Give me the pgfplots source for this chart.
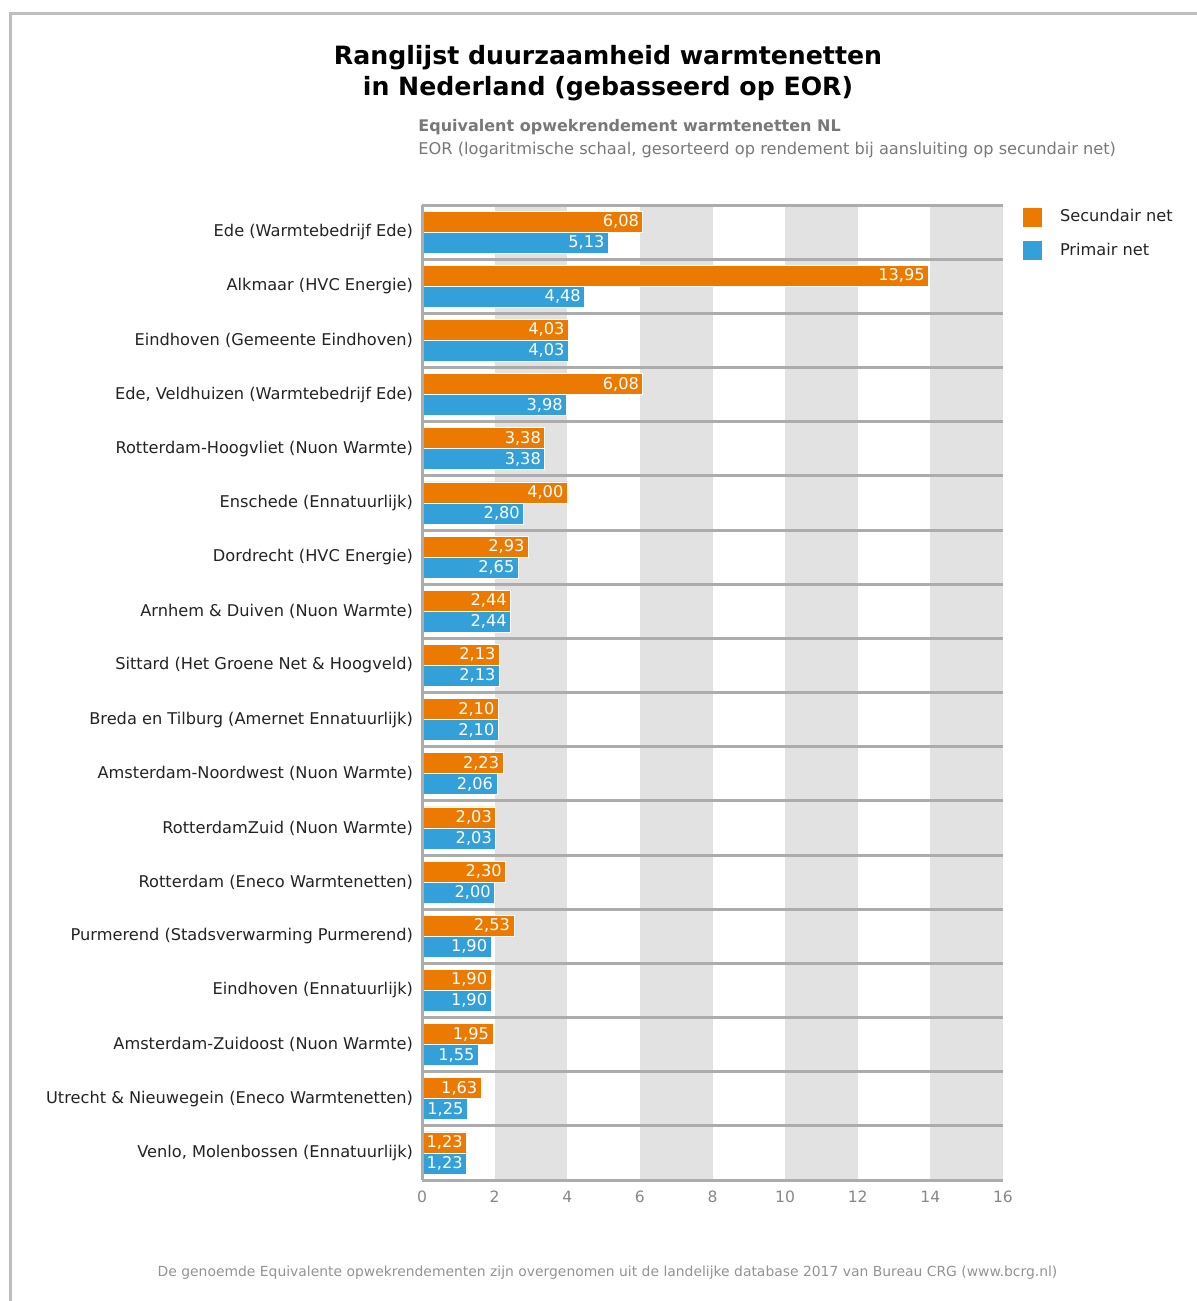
\documentclass[border=0pt]{standalone}
\usepackage{fontspec}
\setmainfont{DejaVu Sans}
\usepackage{pgfplots}
\usepackage{pgfplotstable}
\pgfplotsset{compat=1.18}

\definecolor{secnet}{RGB}{236,122,0}
\definecolor{primnet}{RGB}{52,160,218}
\definecolor{band}{RGB}{226,226,226}
\definecolor{sep}{RGB}{172,172,172}
\definecolor{frame}{RGB}{190,190,190}
\definecolor{labeltext}{RGB}{35,35,35}
\definecolor{subtext}{RGB}{120,120,120}
\definecolor{ticktext}{RGB}{135,135,135}

% row 0 = top of the chart
\pgfplotstableread{
idx sec prim
0 6.08 5.13
1 13.95 4.48
2 4.03 4.03
3 6.08 3.98
4 3.38 3.38
5 4.00 2.80
6 2.93 2.65
7 2.44 2.44
8 2.13 2.13
9 2.10 2.10
10 2.23 2.06
11 2.03 2.03
12 2.30 2.00
13 2.53 1.90
14 1.90 1.90
15 1.95 1.55
16 1.63 1.25
17 1.23 1.23
}\eordata

\begin{document}
\begin{tikzpicture}
\useasboundingbox (0,0) rectangle (598.5pt,650.5pt);
\draw[frame, line width=1.5pt] (5pt,0) -- (5pt,643.5pt) -- (598.5pt,643.5pt);

\node[font=\bfseries\fontsize{12.6}{15.5}\selectfont, align=center, text=black]
  at (304pt,614pt) {Ranglijst duurzaamheid warmtenetten\\in Nederland (gebasseerd op EOR)};
\node[font=\bfseries\fontsize{8}{10}\selectfont, text=subtext, anchor=west, inner sep=0]
  at (209pt,587pt) {Equivalent opwekrendement warmtenetten NL};
\node[font=\fontsize{8.1}{9}\selectfont, text=subtext, anchor=west, inner sep=0]
  at (209pt,575.5pt) {EOR (logaritmische schaal, gesorteerd op rendement bij aansluiting op secundair net)};
\node[font=\fontsize{6.95}{8}\selectfont, text=subtext!80, inner sep=0]
  at (303.75pt,14pt) {De genoemde Equivalente opwekrendementen zijn overgenomen uit de landelijke database 2017 van Bureau CRG (www.bcrg.nl)};

\begin{axis}[
    at={(211pt,60.5pt)}, anchor=south west,
    scale only axis,
    width=290.5pt, height=487.5pt,
    xbar, bar width=10.5pt,
    xmin=0, xmax=16,
    ymin=-0.5, ymax=17.5,
    y dir=reverse,
    xtick={0,2,...,16},
    ytick={0,...,17},
    yticklabels={
        Ede (Warmtebedrijf Ede),
        Alkmaar (HVC Energie),
        Eindhoven (Gemeente Eindhoven),
        {Ede, Veldhuizen (Warmtebedrijf Ede)},
        Rotterdam-Hoogvliet (Nuon Warmte),
        Enschede (Ennatuurlijk),
        Dordrecht (HVC Energie),
        Arnhem \& Duiven (Nuon Warmte),
        Sittard (Het Groene Net \& Hoogveld),
        Breda en Tilburg (Amernet Ennatuurlijk),
        Amsterdam-Noordwest (Nuon Warmte),
        RotterdamZuid (Nuon Warmte),
        Rotterdam (Eneco Warmtenetten),
        Purmerend (Stadsverwarming Purmerend),
        Eindhoven (Ennatuurlijk),
        Amsterdam-Zuidoost (Nuon Warmte),
        Utrecht \& Nieuwegein (Eneco Warmtenetten),
        {Venlo, Molenbossen (Ennatuurlijk)}
    },
    major tick length=0pt,
    axis line style={draw=none},
    axis on top,
    yticklabel style={font=\fontsize{8.1}{9}\selectfont, text=labeltext, xshift=-1pt},
    xticklabel style={font=\fontsize{7.8}{9}\selectfont, text=ticktext, yshift=-2pt},
    /pgf/number format/assume math mode=true,
    extra y ticks={-0.5,0.5,...,17.5},
    extra y tick labels={},
    extra y tick style={grid=major, major grid style={draw=sep, line width=1.5pt}},
    extra x ticks={0},
    extra x tick labels={},
    extra x tick style={grid=major, major grid style={draw=sep, line width=1.5pt}},
    nodes near coords={\pgfmathprintnumber[fixed,fixed zerofill,precision=2,use comma]{\pgfplotspointmeta}},
    every node near coord/.append style={anchor=east, text=white, font=\fontsize{8.1}{9}\selectfont, inner sep=1.8pt},
    legend style={at={(1,1)}, anchor=north west, xshift=9.5pt, draw=none, fill=none,
        font=\fontsize{8.1}{9}\selectfont, text=labeltext, row sep=5pt, inner sep=0pt,
        /tikz/every odd column/.append style={column sep=6.5pt}},
    legend cell align=left,
    legend image code/.code={\fill[#1] (0pt,-5pt) rectangle (10pt,5pt);},
]
\fill[band] (axis cs:2,-0.5) rectangle (axis cs:4,17.5);
\fill[band] (axis cs:6,-0.5) rectangle (axis cs:8,17.5);
\fill[band] (axis cs:10,-0.5) rectangle (axis cs:12,17.5);
\fill[band] (axis cs:14,-0.5) rectangle (axis cs:16,17.5);

\addplot[fill=secnet, draw=white, line width=0.3pt, bar shift=5.25pt] table[x=sec, y=idx] {\eordata};
\addplot[fill=primnet, draw=white, line width=0.3pt, bar shift=-5.25pt] table[x=prim, y=idx] {\eordata};
\legend{Secundair net, Primair net}
\end{axis}
\end{tikzpicture}
\end{document}
